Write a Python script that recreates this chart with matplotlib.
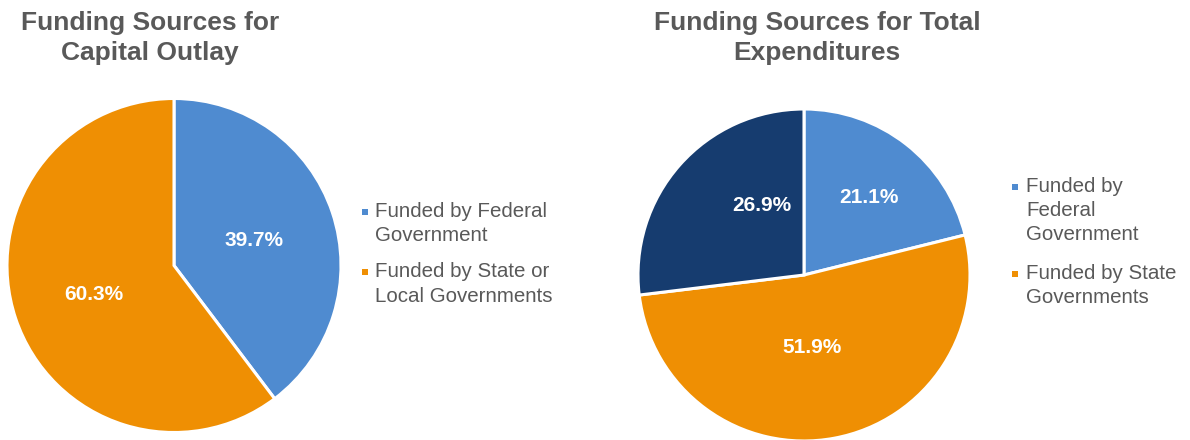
import matplotlib
matplotlib.use("Agg")
import matplotlib.pyplot as plt
import numpy as np
from matplotlib.patches import Rectangle

plt.rcParams['font.family'] = ['Liberation Sans', 'DejaVu Sans']

# ---- data ----
left_title = ["Funding Sources for", "Capital Outlay"]
left_labels = ["Funded by Federal\nGovernment", "Funded by State or\nLocal Governments"]
left_values = [39.7, 60.3]

right_title = ["Funding Sources for Total", "Expenditures"]
right_labels = ["Funded by\nFederal\nGovernment", "Funded by State\nGovernments"]
right_values = [21.1, 51.9, 26.9]

# ---- style ----
BLUE = "#4F8BD0"
ORANGE = "#EF8F03"
NAVY = "#163C6F"
GRAY = "#595959"
W, H = 1190, 440

fig = plt.figure(figsize=(W / 100, H / 100), dpi=100)


def px_axes(cx, cy, r):
    return fig.add_axes([(cx - r) / W, (H - cy - r) / H, 2 * r / W, 2 * r / H])


def draw_pie(ax, values, colors, label_pos):
    vals_iter = iter(values)
    wedges, _, autotexts = ax.pie(
        values, colors=colors, startangle=90, counterclock=False,
        autopct=lambda p: f"{next(vals_iter):.1f}%", pctdistance=0.5,
        wedgeprops=dict(edgecolor="white", linewidth=2.2),
        textprops=dict(color="white", fontsize=15, fontweight="bold"))
    for t, (d, ang) in zip(autotexts, label_pos):
        a = np.deg2rad(ang)
        t.set_position((d * np.cos(a), d * np.sin(a)))
        t.set_ha("center")
        t.set_va("center")
    for w in wedges:
        w.set_clip_on(False)
    ax.set_xlim(-1, 1)
    ax.set_ylim(-1, 1)
    ax.set_aspect("equal")
    ax.axis("off")


def draw_legend(x_marker, x_text, baselines, labels, colors):
    for lab, col, bls in zip(labels, colors, baselines):
        lines = lab.split("\n")
        y0 = bls[0]
        fig.patches.append(Rectangle(((x_marker - 3) / W, (H - (y0 - 5) - 3) / H), 6 / W, 6 / H,
                                     transform=fig.transFigure, facecolor=col, edgecolor="none"))
        for ln, bl in zip(lines, bls):
            fig.text(x_text / W, (H - bl) / H, ln, color=GRAY, fontsize=14.8,
                     ha="left", va="baseline")


def draw_title(cx, baselines, lines):
    for bl, ln in zip(baselines, lines):
        fig.text(cx / W, (H - bl) / H, ln, color=GRAY, fontsize=19, fontweight="bold",
                 ha="center", va="baseline")


# left pie
axL = px_axes(174, 265.5, 167)
draw_pie(axL, left_values, [BLUE, ORANGE], [(0.50, 17.6), (0.51, 200)])
draw_title(150, [30, 60], left_title)
draw_legend(365, 375, [[217, 241], [277, 302]], left_labels, [BLUE, ORANGE])

# right pie
axR = px_axes(804, 275, 166)
draw_pie(axR, right_values, [BLUE, ORANGE, NAVY], [(0.61, 50.2), (0.44, -83.7), (0.49, 121.6)])
draw_title(817, [30, 60], right_title)
draw_legend(1015, 1026, [[192, 216, 240], [279, 303]], right_labels, [BLUE, ORANGE])

fig.savefig("out.png", dpi=100, facecolor="white")
